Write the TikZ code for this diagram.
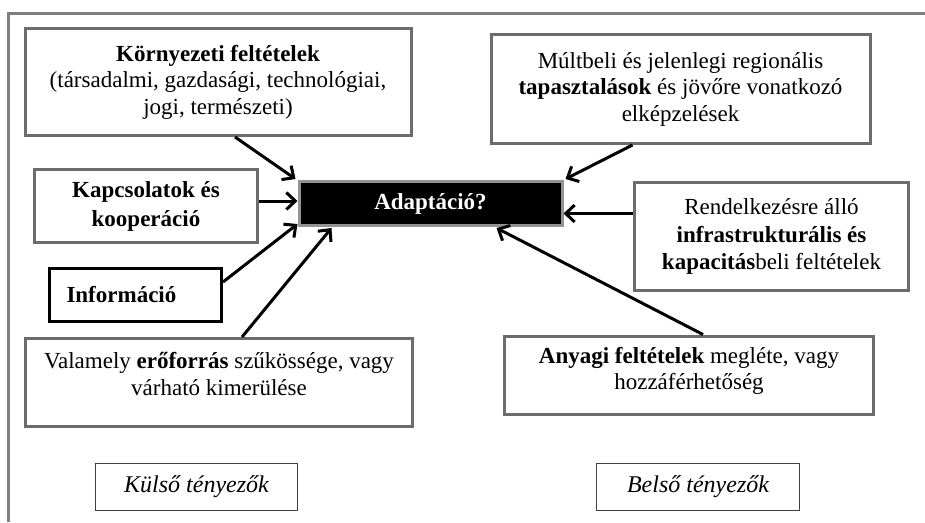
\documentclass[tikz,border=0pt]{standalone}
\usepackage{fontspec}
\setmainfont{Liberation Serif}
\usepackage{tikz}
\usetikzlibrary{shapes,arrows.meta,positioning}
\definecolor{framegray}{RGB}{128,128,128}
\definecolor{boxgray}{RGB}{108,108,108}
\tikzstyle{box} = [rectangle, draw=boxgray, line width=3pt, fill=white, align=center, inner sep=0pt, font=\fontsize{23}{26.5}\selectfont]
\tikzstyle{infobox} = [box, draw=black, align=left, text width=138pt, inner xsep=17pt]
\tikzstyle{blackbox} = [box, fill=black, draw=gray!85, text=white, font=\fontsize{23}{26}\selectfont\bfseries]
\tikzstyle{labelbox} = [box, line width=0.8pt, draw=black!75, font=\fontsize{24}{26}\selectfont\itshape]
\tikzstyle{line} = [draw, line width=3pt, -{Straight Barb[length=9pt,width=17pt]}]

\begin{document}
\begin{tikzpicture}[x=1pt, y=-1pt]
			\useasboundingbox (0,0) rectangle (925,522);
			\draw [framegray, line width=3pt] (925,13) -- (8,13) -- (8,522);

			\node [box, minimum width=386, minimum height=107] (korny) at (218, 82) {\textbf{Környezeti feltételek}\\(társadalmi, gazdasági, technológiai,\\jogi, természeti)};
			\node [box, minimum width=379, minimum height=109] (mult) at (680.5, 89) {Múltbeli és jelenlegi regionális\\\textbf{tapasztalások} és jövőre vonatkozó\\elképzelések};
			\node [box, minimum width=223, minimum height=73, font=\fontsize{23}{29}\selectfont] (kapcs) at (146, 206) {\textbf{Kapcsolatok és}\\\textbf{kooperáció}};
			\node [infobox, minimum height=53] (info) at (135.5, 295) {\textbf{Információ}};
			\node [blackbox, minimum width=263, minimum height=44] (adapt) at (430.5, 203.5) {Adaptáció?};
			\node [box, minimum width=274, minimum height=108, font=\fontsize{23}{27.5}\selectfont] (rend) at (771.5, 236.5) {Rendelkezésre álló\\\textbf{infrastrukturális és}\\\textbf{kapacitás}beli feltételek};
			\node [box, minimum width=387, minimum height=88, text depth=17pt] (val) at (219, 382.5) {Valamely \textbf{erőforrás} szűkössége, vagy\\várható kimerülése};
			\node [box, minimum width=369, minimum height=78, text depth=13pt] (any) at (689, 375) {\textbf{Anyagi feltételek} megléte, vagy\\hozzáférhetőség};
			\node [labelbox, minimum width=202, minimum height=47] (kulso) at (196.5, 487) {Külső tényezők};
			\node [labelbox, minimum width=203, minimum height=47] (belso) at (698, 487) {Belső tényezők};

			\path [line] ([xshift=17pt]korny.south) -- ([xshift=-2pt,yshift=1pt]adapt.north west);
			\path [line] ([xshift=-48pt]mult.south) -- ([xshift=2pt,yshift=1pt]adapt.north east);
			\path [line] ([yshift=5pt]kapcs.east) -- ([yshift=5pt]kapcs.east -| adapt.west);
			\path [line] ([yshift=13pt]info.east) -- ([yshift=3pt]adapt.south west);
			\path [line] ([xshift=23pt]val.north) -- ([xshift=34pt,yshift=-1pt]adapt.south west);
			\path [line] ([yshift=23pt]rend.west) -- ([yshift=23pt]rend.west -| adapt.east);
			\path [line] ([xshift=14pt]any.north) -- ([xshift=66pt,yshift=-1pt]adapt.south);
		\end{tikzpicture}
\end{document}
